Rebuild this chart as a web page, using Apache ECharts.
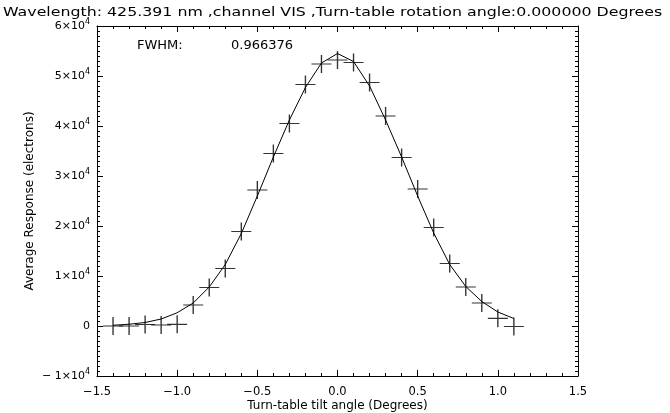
<!DOCTYPE html>
<html>
<head>
<meta charset="utf-8">
<script src="https://cdn.jsdelivr.net/npm/echarts@6/dist/echarts.min.js"></script>
<style>html,body{margin:0;padding:0;background:#fff}#c{width:670px;height:413px}</style>
</head>
<body>
<div id="c"></div>
<script>
const tiltAngles = [-1.4,-1.3,-1.2,-1.1,-1.0,-0.9,-0.8,-0.7,-0.6,-0.5,-0.4,-0.3,-0.2,-0.1,0.0,0.1,0.2,0.3,0.4,0.5,0.6,0.7,0.8,0.9,1.0,1.1];
const measuredResponse = [0,0,300,200,330,4200,7700,11500,18900,27200,34500,40500,48300,52400,53200,52700,48700,42000,33700,27400,19700,12500,7800,4600,1530,-100];
const fittedResponse = [150,350,700,1400,2650,4600,7800,12300,18500,26000,33800,41200,47700,52600,54500,52900,48000,41200,33800,26000,18600,12300,7900,4900,2800,1500];
const titleText = 'Wavelength: 425.391 nm ,channel VIS ,Turn-table rotation angle:0.000000 Degrees';
const fwhmLabel = 'FWHM:';
const fwhmValue = '0.966376';
const xLabel = 'Turn-table tilt angle (Degrees)';
const yLabel = 'Average Response (electrons)';

const FONT = 'DejaVu Sans';
const chart = echarts.init(document.getElementById('c'), null, {renderer: 'canvas'});

function xFmt(v){ const s = Math.abs(v).toFixed(1); return v < -1e-9 ? '\u2212' + s : s; }
function yFmt(v){
  if (Math.abs(v) < 1e-6) return '{b|0}';
  const m = Math.round(v / 1e4);
  return (m < 0 ? '{b|\u2212 }' : '') + '{b|' + Math.abs(m) + '\u00d710}{s|4}';
}
const yRich = {
  b: {fontFamily: FONT, fontSize: 11, color: '#000'},
  s: {fontFamily: FONT, fontSize: 8, color: '#000', padding: [0, 0, 9, 0]}
};
const axisCommon = {
  axisLine: {show: true, onZero: false, lineStyle: {color: '#000', width: 1}},
  splitLine: {show: false},
  axisTick: {show: true, inside: true, length: 6, lineStyle: {color: '#000'}},
  minorTick: {show: true, length: 3, lineStyle: {color: '#000'}}
};

const crossData = tiltAngles.map((x, i) => [x, measuredResponse[i]]);
const fitData = tiltAngles.map((x, i) => [x, fittedResponse[i]]);

chart.setOption({
  animation: false,
  backgroundColor: '#fff',
  grid: {left: 97, right: 92, top: 26, bottom: 37, containLabel: false, outerBoundsMode: 'none'},
  xAxis: [
    Object.assign({}, axisCommon, {
      type: 'value', position: 'bottom', min: -1.5, max: 1.5, interval: 0.5,
      minorTick: Object.assign({}, axisCommon.minorTick, {splitNumber: 5}),
      axisLabel: {formatter: xFmt, fontFamily: FONT, fontSize: 11.5, color: '#000', margin: 10},
      name: xLabel, nameLocation: 'middle', nameGap: 24, nameMoveOverlap: false,
      nameTextStyle: {fontFamily: FONT, fontSize: 12, color: '#000'}
    }),
    Object.assign({}, axisCommon, {
      type: 'value', position: 'top', min: -1.5, max: 1.5, interval: 0.5,
      minorTick: Object.assign({}, axisCommon.minorTick, {splitNumber: 5}),
      axisLabel: {show: false}
    })
  ],
  yAxis: [
    Object.assign({}, axisCommon, {
      type: 'value', position: 'left', min: -10000, max: 60000, interval: 10000,
      minorTick: Object.assign({}, axisCommon.minorTick, {splitNumber: 10}),
      axisLabel: {formatter: yFmt, rich: yRich, margin: 7},
      name: yLabel, nameLocation: 'middle', nameGap: 61, nameMoveOverlap: false,
      nameTextStyle: {fontFamily: FONT, fontSize: 12, color: '#000'}
    }),
    Object.assign({}, axisCommon, {
      type: 'value', position: 'right', min: -10000, max: 60000, interval: 10000,
      minorTick: Object.assign({}, axisCommon.minorTick, {splitNumber: 10}),
      axisLabel: {show: false}
    })
  ],
  series: [
    {
      type: 'line', xAxisIndex: 0, yAxisIndex: 0, data: fitData,
      showSymbol: false, symbol: 'none',
      lineStyle: {color: '#000', width: 1}
    },
    {
      type: 'scatter', xAxisIndex: 0, yAxisIndex: 0, data: crossData,
      symbol: 'path://M0,9L20,9M10,0L10,18', symbolSize: [20, 18],
      itemStyle: {color: 'rgba(0,0,0,0)', borderColor: '#000', borderWidth: 1.3}
    }
  ],
  graphic: [
    {type: 'text', x: 3, y: 6, scaleX: 1.215, scaleY: 1, originX: 0, originY: 0,
     style: {text: titleText, font: '13px "DejaVu Sans"', fill: '#000'}},
    {type: 'text', left: 137, top: 39, style: {text: fwhmLabel, font: '13px "DejaVu Sans"', fill: '#000'}},
    {type: 'text', left: 231, top: 39, style: {text: fwhmValue, font: '13px "DejaVu Sans"', fill: '#000'}}
  ]
});
</script>
</body>
</html>
